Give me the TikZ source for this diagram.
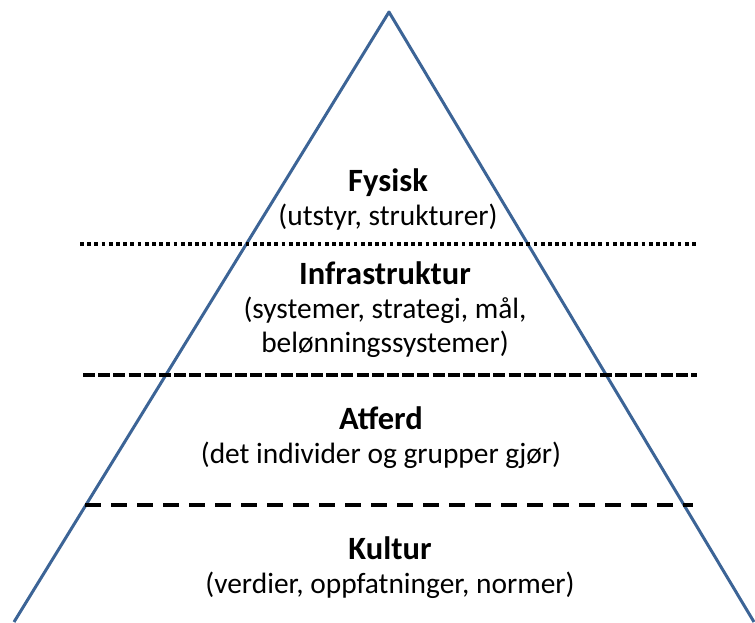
\documentclass[tikz,border=0pt]{standalone}
\usepackage{fontspec}
\setmainfont{Carlito}
\definecolor{pyrblue}{RGB}{60,100,150}
\newcommand{\lvlhead}[1]{{\fontsize{32.5}{34}\selectfont\bfseries #1}}

\begin{document}
\begin{tikzpicture}[x=1pt,y=-1pt,
    lvltext/.style={align=center,anchor=base,inner sep=0pt,
      font=\fontsize{29.4}{34}\selectfont},
    sepline/.style={line width=4pt,black}]
    \useasboundingbox (0,0) rectangle (755,622);
    \clip (0,0) rectangle (755,622);
    % pyramid
    \coordinate (top) at (389,12);
    \coordinate (botl) at (14,622);
    \coordinate (botr) at (754,622);
    \draw[pyrblue,line width=3pt,line join=round] (botl) -- (top) -- (botr);
    % level borders
    \coordinate (d1l) at (80,244);
    \coordinate (d1r) at (697,244);
    \coordinate (d2l) at (83,375);
    \coordinate (d2r) at (697,375);
    \coordinate (d3l) at (85,505);
    \coordinate (d3r) at (693,505);
    \draw[sepline,line width=3.8pt,dash pattern=on 3.8pt off 3.4pt] (d1l) -- (d1r);
    \draw[sepline,dash pattern=on 12pt off 3.2pt] (d2l) -- (d2r);
    \draw[sepline,line width=4.5pt,dash pattern=on 16pt off 10pt] (d3l) -- (d3r);
    % level names (anchored at the last line)
    \node[lvltext] (fysisk) at (388,225) {\lvlhead{Fysisk}\\(utstyr, strukturer)};
    \node[lvltext] (infra) at (385,352) {\lvlhead{Infrastruktur}\\(systemer, strategi, mål,\\belønningssystemer)};
    \node[lvltext] (atferd) at (381,463) {\lvlhead{Atferd}\\(det individer og grupper gjør)};
    \node[lvltext] (kultur) at (390,593) {\lvlhead{Kultur}\\(verdier, oppfatninger, normer)};
\end{tikzpicture}
\end{document}
